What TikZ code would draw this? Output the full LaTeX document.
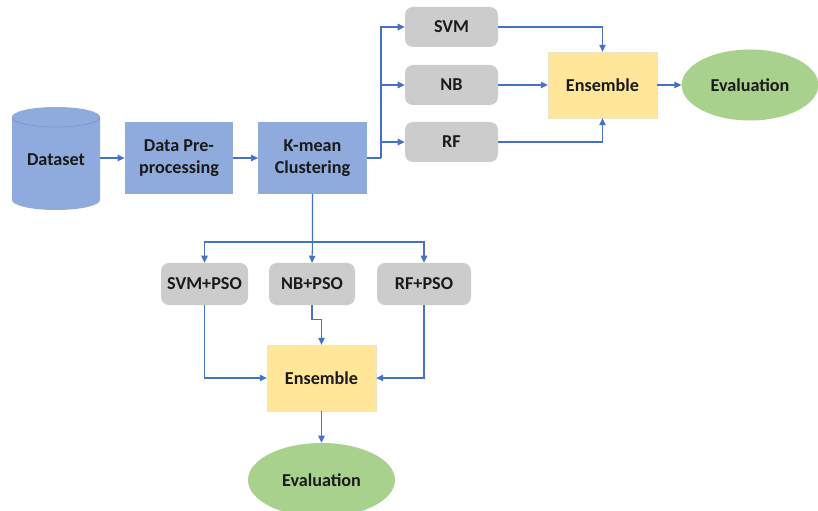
\documentclass[tikz,border=0pt]{standalone}
\usepackage{fontspec}
\setmainfont{Carlito}
\usetikzlibrary{arrows.meta,shapes.geometric,calc}
\definecolor{lineblue}{HTML}{4472C4}
\definecolor{boxblue}{HTML}{8FAADC}
\definecolor{boxgray}{HTML}{CCCCCC}
\definecolor{boxyellow}{HTML}{FFE699}
\definecolor{boxgreen}{HTML}{A9D18E}
\definecolor{txt}{HTML}{1A1A1A}
\tikzset{
  lbl/.style={font=\fontsize{15.5}{18.5}\selectfont\bfseries, text=txt, align=center, inner sep=0pt},
  bluebox/.style={lbl, fill=boxblue, draw=none, minimum width=3.25cm, minimum height=2.16cm},
  graybox/.style={lbl, fill=boxgray, draw=none, rounded corners=0.24cm, minimum height=1.2cm},
  ensbox/.style={lbl, fill=boxyellow, draw=boxyellow!80!black!40, line width=0.3pt, minimum width=3.27cm, minimum height=1.98cm},
  evalell/.style={lbl, ellipse, fill=boxgreen, draw=none},
  arr/.style={draw=lineblue, line width=0.9pt, -{Triangle[length=6pt,width=5.5pt]}},
  ln/.style={draw=lineblue, line width=0.9pt},
}
\begin{document}
\begin{tikzpicture}[x=0.03cm,y=-0.03cm]
\useasboundingbox (0,0) rectangle (818,511);
\clip (0,0) rectangle (818,511);
\fill[white] (0,0) rectangle (818,511);
% cylinder
\fill[boxblue] (12,117) -- (12,200) arc[start angle=180,end angle=360,x radius=1.32cm,y radius=0.3cm] -- (100,117) arc[start angle=0,end angle=180,x radius=1.32cm,y radius=0.3cm] -- cycle;
\draw[boxblue!80!black, line width=0.3pt] (12,117) arc[start angle=180,end angle=360,x radius=1.32cm,y radius=0.3cm];
\node[lbl] (ds) at (56,160) {Dataset};
\coordinate (dsr) at (100,158);
\node[bluebox] (pre) at (179,158) {Data Pre-\\processing};
\node[bluebox] (km) at (312.5,158) {K-mean\\Clustering};
% top branch
\node[graybox, minimum width=2.79cm] (svm) at (451.5,27) {SVM};
\node[graybox, minimum width=2.79cm] (nb) at (451.5,85) {NB};
\node[graybox, minimum width=2.79cm] (rf) at (451.5,142) {RF};
\node[ensbox] (ens) at (602.5,85) {Ensemble};
\node[evalell, minimum width=4.1cm, minimum height=2.13cm] (ev) at (750,85) {Evaluation};
% bottom branch
\node[graybox, minimum width=2.61cm, minimum height=1.26cm] (svmp) at (204.5,284) {SVM+PSO};
\node[graybox, minimum width=2.58cm, minimum height=1.26cm] (nbp) at (312,284) {NB+PSO};
\node[graybox, minimum width=2.82cm, minimum height=1.26cm] (rfp) at (424,284) {RF+PSO};
\node[ensbox] (ens2) at (321.5,378) {Ensemble};
\node[evalell, minimum width=4.41cm, minimum height=2.22cm] (ev2) at (321.5,480) {Evaluation};
% connectors
\draw[arr] (dsr) -- (pre.west);
\draw[arr] (pre.east) -- (km.west);
\coordinate (j) at (381,158);
\draw[ln] (km.east) -- (j);
\draw[arr] (j) |- (svm.west);
\draw[arr] (j) |- (nb.west);
\draw[arr] (j) |- (rf.west);
\draw[arr] (svm.east) -| (ens.north);
\draw[arr] (nb.east) -- (ens.west);
\draw[arr] (rf.east) -| (ens.south);
\draw[arr] (ens.east) -- (ev.west);
\coordinate (b) at (312.5,242);
\draw[arr] (km.south) -- (b) -- (nbp.north);
\draw[arr] (b) -| (svmp.north);
\draw[arr] (b) -| (rfp.north);
\draw[arr] (svmp.south) |- (ens2.west);
\draw[arr] (rfp.south) |- (ens2.east);
\draw[arr] (nbp.south) -- ++(0,14) -| (ens2.north);
\draw[arr] (ens2.south) -- (ev2.north);
\end{tikzpicture}
\end{document}
